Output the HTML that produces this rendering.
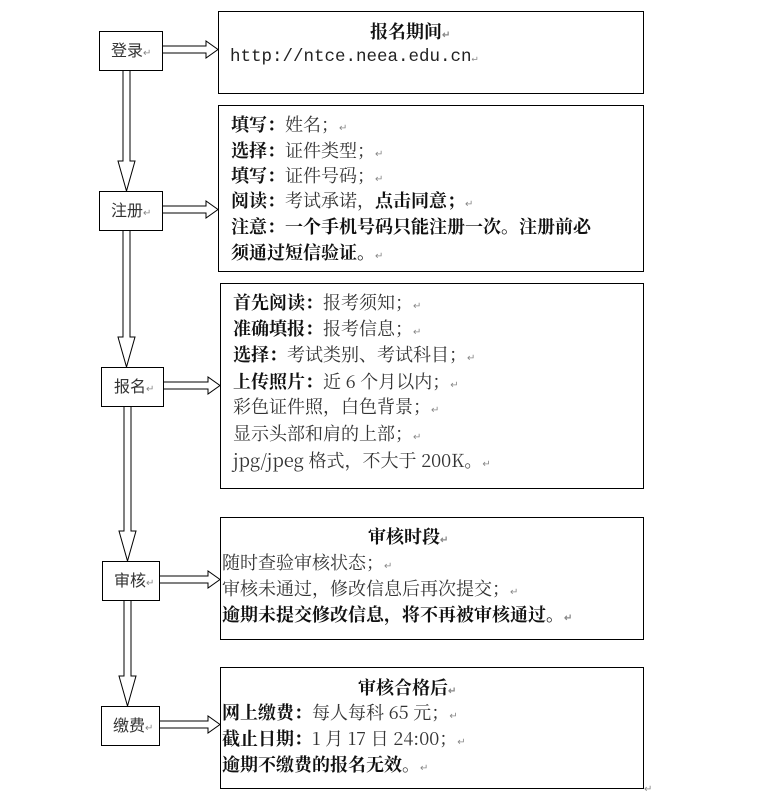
<!DOCTYPE html>
<html><head><meta charset="utf-8"><style>
html,body{margin:0;padding:0;background:#fff;}
svg{display:block;}
text{font-family:"Noto Serif CJK SC","Liberation Serif",serif;font-size:18px;fill:#111;}
.b{font-weight:bold;}
.r{fill:#333;}
.m{font-size:10px;fill:#888;}
.l{font-size:16px;fill:#333;font-family:"Noto Sans CJK SC","Liberation Sans",sans-serif;}
.u{font-family:"Liberation Mono",monospace;font-size:17.5px;fill:#222;}
</style></head><body>
<svg width="760" height="801" viewBox="0 0 760 801" xmlns="http://www.w3.org/2000/svg">
<g fill="#fff" stroke="#000" stroke-width="1">
<polygon points="123,70 130,70 130,161 135,161 126.5,191 118,161 123,161"/>
<polygon points="123,230 130,230 130,337 135,337 126.5,367 118,337 123,337"/>
<polygon points="124,406 131,406 131,531 136,531 127.5,561 119,531 124,531"/>
<polygon points="124,600 131,600 131,676 136,676 127.5,706 119,676 124,676"/>
<polygon points="162,46 206,46 206,41 218,49.5 206,58 206,53 162,53"/>
<polygon points="162,206 206,206 206,201 218,209.5 206,218 206,213 162,213"/>
<polygon points="163,382 208,382 208,377 220,385.5 208,394 208,389 163,389"/>
<polygon points="159,576 208,576 208,571 220,579.5 208,588 208,583 159,583"/>
<polygon points="159,721 208,721 208,716 220,724.5 208,733 208,728 159,728"/>
<rect x="99.5" y="31.5" width="63" height="39"/>
<rect x="99.5" y="191.5" width="63" height="39"/>
<rect x="101.5" y="367.5" width="62" height="39"/>
<rect x="102.5" y="561.5" width="57" height="39"/>
<rect x="101.5" y="706.5" width="58" height="39"/>
<rect x="218.5" y="11.5" width="425" height="82"/>
<rect x="218.5" y="105.5" width="425" height="166"/>
<rect x="220.5" y="283.5" width="423" height="205"/>
<rect x="220.5" y="517.5" width="423" height="122"/>
<rect x="220.5" y="667.5" width="423" height="121"/>
</g>
<text class="l" x="111" y="56">登录<tspan class="m">↵</tspan></text>
<text class="l" x="111" y="216">注册<tspan class="m">↵</tspan></text>
<text class="l" x="114" y="392">报名<tspan class="m">↵</tspan></text>
<text class="l" x="114" y="586">审核<tspan class="m">↵</tspan></text>
<text class="l" x="113" y="731">缴费<tspan class="m">↵</tspan></text>

<text class="b" x="370" y="38">报名期间<tspan class="m">↵</tspan></text>
<text class="u" x="230" y="61">http://ntce.neea.edu.cn<tspan class="m">↵</tspan></text>

<text x="231" y="131"><tspan class="b">填写：</tspan><tspan class="r">姓名；</tspan><tspan class="m">↵</tspan></text>
<text x="231" y="157"><tspan class="b">选择：</tspan><tspan class="r">证件类型；</tspan><tspan class="m">↵</tspan></text>
<text x="231" y="182"><tspan class="b">填写：</tspan><tspan class="r">证件号码；</tspan><tspan class="m">↵</tspan></text>
<text x="231" y="207"><tspan class="b">阅读：</tspan><tspan class="r">考试承诺，</tspan><tspan class="b">点击同意；</tspan><tspan class="m">↵</tspan></text>
<text class="b" x="231" y="233">注意：一个手机号码只能注册一次。注册前必</text>
<text x="231" y="259"><tspan class="b">须通过短信验证。</tspan><tspan class="m">↵</tspan></text>

<text x="233" y="309"><tspan class="b">首先阅读：</tspan><tspan class="r">报考须知；</tspan><tspan class="m">↵</tspan></text>
<text x="233" y="335"><tspan class="b">准确填报：</tspan><tspan class="r">报考信息；</tspan><tspan class="m">↵</tspan></text>
<text x="233" y="361"><tspan class="b">选择：</tspan><tspan class="r">考试类别、考试科目；</tspan><tspan class="m">↵</tspan></text>
<text x="233" y="388"><tspan class="b">上传照片：</tspan><tspan class="r">近 6 个月以内；</tspan><tspan class="m">↵</tspan></text>
<text class="r" x="233" y="413">彩色证件照，白色背景；<tspan class="m">↵</tspan></text>
<text class="r" x="233" y="440">显示头部和肩的上部；<tspan class="m">↵</tspan></text>
<text class="r" x="233" y="467">jpg/jpeg 格式，不大于 200K。<tspan class="m">↵</tspan></text>

<text class="b" x="368" y="543">审核时段<tspan class="m">↵</tspan></text>
<text class="r" x="222" y="569">随时查验审核状态；<tspan class="m">↵</tspan></text>
<text class="r" x="222" y="595">审核未通过，修改信息后再次提交；<tspan class="m">↵</tspan></text>
<text class="b" x="222" y="621">逾期未提交修改信息，将不再被审核通过。<tspan class="m">↵</tspan></text>

<text class="b" x="358" y="694">审核合格后<tspan class="m">↵</tspan></text>
<text x="222" y="719"><tspan class="b">网上缴费：</tspan><tspan class="r">每人每科 65 元；</tspan><tspan class="m">↵</tspan></text>
<text x="222" y="745"><tspan class="b">截止日期：</tspan><tspan class="r">1 月 17 日 24:00；</tspan><tspan class="m">↵</tspan></text>
<text x="222" y="771"><tspan class="b">逾期不缴费的报名无效</tspan><tspan class="r">。</tspan><tspan class="m">↵</tspan></text>
<text class="m" x="644" y="792">↵</text>
</svg>
</body></html>
